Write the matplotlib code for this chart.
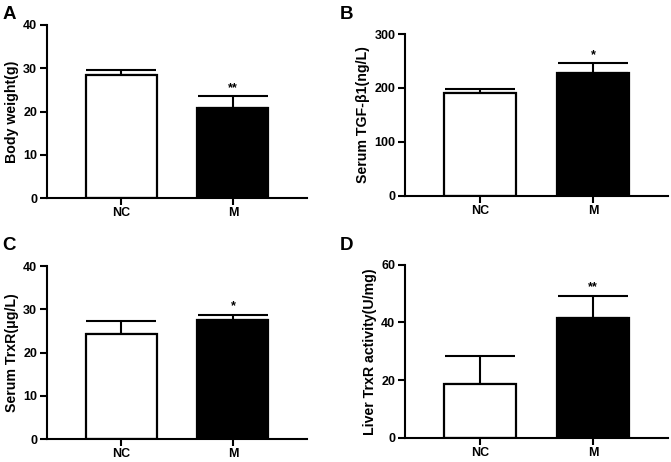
import matplotlib
matplotlib.use('Agg')
import matplotlib.pyplot as plt

plt.rcParams['font.family'] = ['Liberation Sans', 'DejaVu Sans']
plt.rcParams['font.weight'] = 'bold'

groups = ['NC', 'M']

# panel data (mean, upper SD)
body_weight = [28.5, 20.9]
body_weight_err = [1.1, 2.6]
tgf_b1 = [191, 227]
tgf_b1_err = [7, 19]
serum_trxr = [24.3, 27.6]
serum_trxr_err = [2.9, 1.1]
liver_trxr = [18.5, 41.6]
liver_trxr_err = [9.8, 7.6]

ylabels = ['Body weight(g)', 'Serum TGF-β1(ng/L)', 'Serum TrxR(μg/L)', 'Liver TrxR activity(U/mg)']
ylims = [40, 300, 40, 60]
ysteps = [10, 100, 10, 20]
stars = ['**', '*', '*', '**']
letters = ['A', 'B', 'C', 'D']

panels = [
    (body_weight, body_weight_err),
    (tgf_b1, tgf_b1_err),
    (serum_trxr, serum_trxr_err),
    (liver_trxr, liver_trxr_err),
]

positions = [
    [0.070, 0.5714, 0.3875, 0.3745],
    [0.6036, 0.5764, 0.3919, 0.3500],
    [0.070, 0.0491, 0.3875, 0.3751],
    [0.6036, 0.0526, 0.3919, 0.3745],
]
letter_pos = [(0.004, 0.988), (0.507, 0.988), (0.004, 0.487), (0.507, 0.487)]

fig = plt.figure(figsize=(6.71, 4.62), dpi=100)

for i, (vals, errs) in enumerate(panels):
    ax = fig.add_axes(positions[i])
    x = [0, 1]
    ax.bar(x, vals, width=0.637, color=['white', 'black'], edgecolor='black', linewidth=1.6, zorder=2)
    ax.errorbar(x, vals, yerr=[[0, 0], errs], fmt='none', ecolor='black', elinewidth=1.5,
                capsize=25, capthick=1.5, zorder=1)
    top = vals[1] + errs[1]
    ax.text(1, top + ylims[i] * 0.015, stars[i], ha='center', va='bottom', fontsize=9, fontweight='bold')
    ax.set_xlim(-0.668, 1.664)
    ax.set_ylim(0, ylims[i])
    ax.set_yticks(range(0, ylims[i] + 1, ysteps[i]))
    ax.set_xticks(x)
    ax.set_xticklabels(groups)
    ax.set_ylabel(ylabels[i], fontsize=10.2, fontweight='bold', labelpad=3)
    for s in ['top', 'right']:
        ax.spines[s].set_visible(False)
    for s in ['left', 'bottom']:
        ax.spines[s].set_linewidth(1.5)
    ax.tick_params(width=1.5, length=5, labelsize=9, pad=2)
    ax.tick_params(axis='x', pad=1.5)
    for lab in ax.get_xticklabels() + ax.get_yticklabels():
        lab.set_fontweight('bold')
    fig.text(letter_pos[i][0], letter_pos[i][1], letters[i], fontsize=13.5, fontweight='bold',
             ha='left', va='top')

fig.savefig('out.png', dpi=100)
